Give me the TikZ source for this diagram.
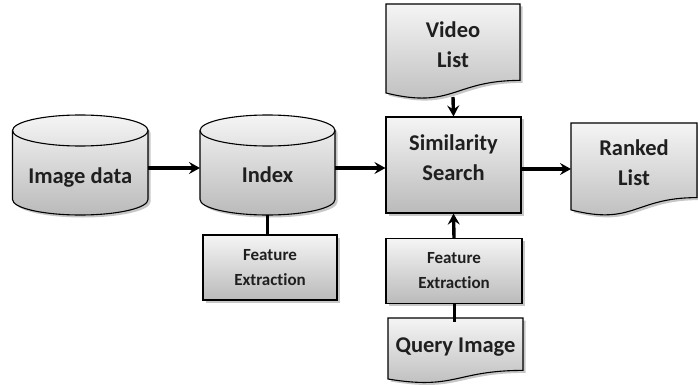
\documentclass[tikz,border=0pt]{standalone}
\usepackage{fontspec}
\setmainfont{Carlito}[Ligatures=NoCommon]
\usetikzlibrary{arrows.meta,shadows}

\tikzset{
  shade box/.style={top color=black!4, bottom color=black!27, draw=black, line width=1.1pt},
  soft shadow/.style={drop shadow={shadow xshift=2.5pt, shadow yshift=-2.5pt, opacity=0.22, fill=black}},
  big text/.style={font=\fontsize{22.5}{30}\selectfont\bfseries, text=black!88, align=center},
  small text/.style={font=\fontsize{17}{25}\selectfont\bfseries, text=black!88, align=center},
  procbox/.style={shade box, soft shadow, rectangle, inner sep=0pt, small text},
  simbox/.style={shade box, soft shadow, rectangle, inner sep=0pt},
  anchorbox/.style={rectangle, inner sep=0pt, outer sep=0pt},
  label text/.style={inner sep=0pt},
  rim/.style={draw=black, line width=1.1pt},
  flowarrow/.style={draw=black, line width=3.4pt, -{Stealth[length=11pt, width=12pt, inset=4pt]}},
  linkline/.style={draw=black, line width=3pt}
}

\begin{document}
\begin{tikzpicture}[x=1pt, y=-1pt]
\useasboundingbox (0,0) rectangle (698,385);

% storage cylinders
\path[shade box, soft shadow] (12.5,199.5) arc (180:360:67.75pt and 15.5pt)
  -- (148,130.5) arc (0:180:67.75pt and 15.5pt) -- cycle;
\draw[rim] (148,130.5) arc (0:-180:67.75pt and 15.5pt);

\path[shade box, soft shadow] (200,199.5) arc (180:360:67.5pt and 15.5pt)
  -- (335,130.5) arc (0:180:67.5pt and 15.5pt) -- cycle;
\draw[rim] (335,130.5) arc (0:-180:67.5pt and 15.5pt);

% document shapes
\path[shade box, soft shadow] (386,4) -- (520,4) -- (520,80.4)
  .. controls (453,80.4) and (453,109.5) .. (386,93) -- cycle;
\path[shade box, soft shadow] (571,123) -- (697,123) -- (697,197.6)
  .. controls (634,197.6) and (634,226) .. (571,209.9) -- cycle;
\path[shade box, soft shadow] (388,318) -- (523,318) -- (523,370.4)
  .. controls (455.5,370.4) and (455.5,390.3) .. (388,379) -- cycle;

% anchors of the drawn shapes
\node[anchorbox, minimum width=135.5pt, minimum height=94pt] (img) at (80.25,168) {};
\node[anchorbox, minimum width=135pt, minimum height=94pt] (idx) at (267.5,168) {};
\node[anchorbox, minimum width=134pt, minimum height=104pt] (vid) at (453,45) {};
\node[anchorbox, minimum width=126pt, minimum height=92pt] (rank) at (634,169) {};
\node[anchorbox, minimum width=135pt, minimum height=60pt] (qry) at (455.5,348) {};

% process boxes
\node[simbox, minimum width=135pt, minimum height=96pt] (sim) at (453.5,165) {};
\node[procbox, minimum width=134pt, minimum height=65pt] (fe1) at (270,267.5) {Feature\\Extraction};
\node[procbox, minimum width=136pt, minimum height=65pt] (fe2) at (454,271) {Feature\\Extraction};

% labels
\node[label text, big text] (imgtxt) at (80.25,178) {Image data};
\node[label text, big text] (idxtxt) at (267.5,175) {Index};
\node[label text, big text] (vidtxt) at (453,45) {Video\\List};
\node[label text, big text] (simtxt) at (453.5,158) {Similarity\\Search};
\node[label text, big text] (ranktxt) at (634,162.5) {Ranked\\List};
\node[label text, big text] (qrytxt) at (455.5,347) {Query Image};

% connectors
\draw[flowarrow] (img.east) -- (idx.west);
\draw[flowarrow] (idx.east) -- (idx.east -| sim.west);
\draw[flowarrow] (vid.south) -- (sim.north);
\draw[flowarrow] (sim.east |- rank.west) -- (rank.west);
\draw[flowarrow] (fe2.north) -- (sim.south);
\draw[linkline] (idx.south) -- (idx.south |- fe1.north);
\draw[linkline] (fe2.south) -- ([yshift=-4pt]fe2.south |- qry.north);
\end{tikzpicture}
\end{document}
